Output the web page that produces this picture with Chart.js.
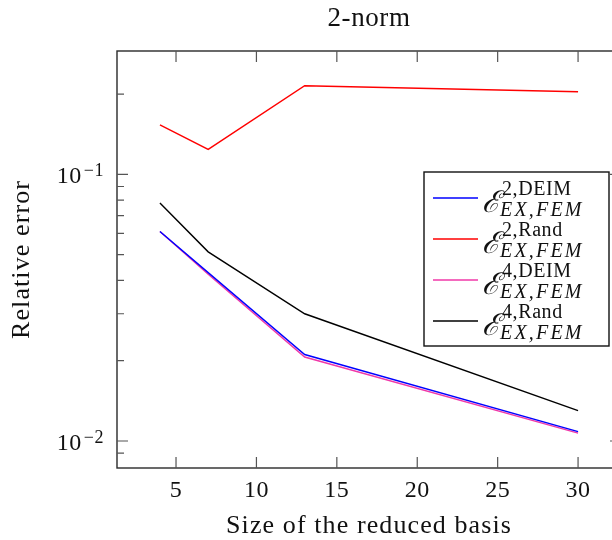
<!DOCTYPE html>
<html>
<head>
<meta charset="utf-8">
<script src="https://cdn.jsdelivr.net/npm/chart.js@4/dist/chart.umd.min.js"></script>
<style>
  html, body { margin: 0; padding: 0; background: #fff; overflow: hidden; }
  #wrap { width: 630px; height: 540px; }
</style>
</head>
<body>
<div id="wrap"><canvas id="c" width="630" height="540"></canvas></div>
<script>
// Size of the reduced basis
const basisSizes = [4, 7, 13, 30];

// Relative errors (2-norm)
const err2Deim = [0.0610, 0.0428, 0.0211, 0.01084];
const err2Rand = [0.1531, 0.1240, 0.2148, 0.2040];
const err4Deim = [0.0610, 0.0422, 0.02065, 0.0107];
const err4Rand = [0.0780, 0.0512, 0.0300, 0.0130];

const xTicks = [5, 10, 15, 20, 25, 30];
const yMajor = [0.01, 0.1];
const yMajorExp = ['−2', '−1'];

const seriesNames = [
  { sup: '2,DEIM', color: '#0000ff' },
  { sup: '2,Rand', color: '#ff0000' },
  { sup: '4,DEIM', color: '#f038a8' },
  { sup: '4,Rand', color: '#000000' }
];

const SERIF = '"Liberation Serif", "DejaVu Serif", serif';

function pts(ys) { return basisSizes.map((x, i) => ({ x: x, y: ys[i] })); }

function spaced(ctx, px) {
  if ('letterSpacing' in ctx) ctx.letterSpacing = px + 'px';
}

const axesPlugin = {
  id: 'pgfAxes',
  afterDraw(chart) {
    const ctx = chart.ctx;
    const a = chart.chartArea;
    const xs = chart.scales.x, ys = chart.scales.y;
    ctx.save();
    ctx.strokeStyle = '#2a2a2a';
    ctx.lineWidth = 1.4;
    ctx.strokeRect(a.left, a.top, a.right - a.left, a.bottom - a.top);

    // x ticks (inward, bottom and top)
    ctx.lineWidth = 1.2;
    ctx.strokeStyle = '#555';
    xTicks.forEach(v => {
      const px = xs.getPixelForValue(v);
      ctx.beginPath();
      ctx.moveTo(px, a.bottom); ctx.lineTo(px, a.bottom - 11);
      ctx.moveTo(px, a.top); ctx.lineTo(px, a.top + 11);
      ctx.stroke();
    });
    // y ticks, major and minor
    const lo = ys.min, hi = ys.max;
    for (let e = -4; e <= 0; e++) {
      for (let m = 1; m <= 9; m++) {
        const v = m * Math.pow(10, e);
        if (v < lo * 1.02 || v > hi) continue;
        const len = m === 1 ? 11 : 7;
        const py = ys.getPixelForValue(v);
        ctx.beginPath();
        ctx.moveTo(a.left, py); ctx.lineTo(a.left + len, py);
        ctx.moveTo(a.right, py); ctx.lineTo(a.right - len, py);
        ctx.stroke();
      }
    }

    ctx.fillStyle = '#111';
    // x tick labels
    ctx.font = '24px ' + SERIF;
    ctx.textAlign = 'center';
    ctx.textBaseline = 'alphabetic';
    spaced(ctx, 0.5);
    xTicks.forEach(v => {
      ctx.fillText(String(v), xs.getPixelForValue(v), 497);
    });
    // y tick labels: 10 with exponent
    yMajor.forEach((v, i) => {
      const py = ys.getPixelForValue(v);
      ctx.font = '18px ' + SERIF;
      ctx.textAlign = 'right';
      spaced(ctx, 0.5);
      ctx.fillText(yMajorExp[i], 104, py + 2);
      const ew = ctx.measureText(yMajorExp[i]).width;
      ctx.font = '24px ' + SERIF;
      ctx.fillText('10', 104 - ew - 2, py + 9);
    });

    // Title and axis titles
    ctx.textAlign = 'center';
    ctx.font = '27px ' + SERIF;
    spaced(ctx, 0.6);
    ctx.fillText('2-norm', (a.left + a.right) / 2, 26);
    ctx.font = '26px ' + SERIF;
    spaced(ctx, 1.1);
    ctx.fillText('Size of the reduced basis', (a.left + a.right) / 2, 533);
    ctx.save();
    ctx.translate(29, (a.top + a.bottom) / 2);
    ctx.rotate(-Math.PI / 2);
    ctx.fillText('Relative error', 0, 0);
    ctx.restore();
    spaced(ctx, 0);

    // Legend
    const L = { x: 424, y: 172, w: 185, h: 174 };
    ctx.fillStyle = '#fff';
    ctx.fillRect(L.x, L.y, L.w, L.h);
    ctx.strokeStyle = '#111';
    ctx.lineWidth = 1.4;
    ctx.strokeRect(L.x, L.y, L.w, L.h);
    seriesNames.forEach((s, i) => {
      const ly = 198 + i * 41;
      ctx.strokeStyle = s.color;
      ctx.lineWidth = 1.4;
      ctx.beginPath();
      ctx.moveTo(433, ly); ctx.lineTo(478, ly);
      ctx.stroke();
      ctx.fillStyle = '#111';
      ctx.textAlign = 'left';
      spaced(ctx, 0);
      ctx.font = 'italic 30px "DejaVu Serif", serif';
      ctx.fillText('ℰ', 482, ly + 14);
      ctx.font = '20px ' + SERIF;
      spaced(ctx, 0.6);
      ctx.fillText(s.sup, 502, ly - 3);
      ctx.font = 'italic 20px ' + SERIF;
      spaced(ctx, 2.2);
      ctx.fillText('EX,FEM', 500, ly + 18);
      spaced(ctx, 0);
    });
    ctx.restore();
  }
};

new Chart(document.getElementById('c'), {
  type: 'line',
  data: {
    datasets: [
      { data: pts(err2Deim), borderColor: seriesNames[0].color },
      { data: pts(err2Rand), borderColor: seriesNames[1].color },
      { data: pts(err4Deim), borderColor: seriesNames[2].color },
      { data: pts(err4Rand), borderColor: seriesNames[3].color }
    ].map(d => Object.assign(d, { borderWidth: 1.4, pointRadius: 0, tension: 0, fill: false }))
  },
  options: {
    responsive: false,
    animation: false,
    layout: { padding: { left: 117, right: 9, top: 51, bottom: 72 } },
    plugins: { legend: { display: false }, tooltip: { enabled: false } },
    scales: {
      x: { type: 'linear', min: 1.33, max: 32.67, display: false },
      y: { type: 'logarithmic', min: 0.00792, max: 0.290, display: false }
    }
  },
  plugins: [axesPlugin]
});
</script>
</body>
</html>
